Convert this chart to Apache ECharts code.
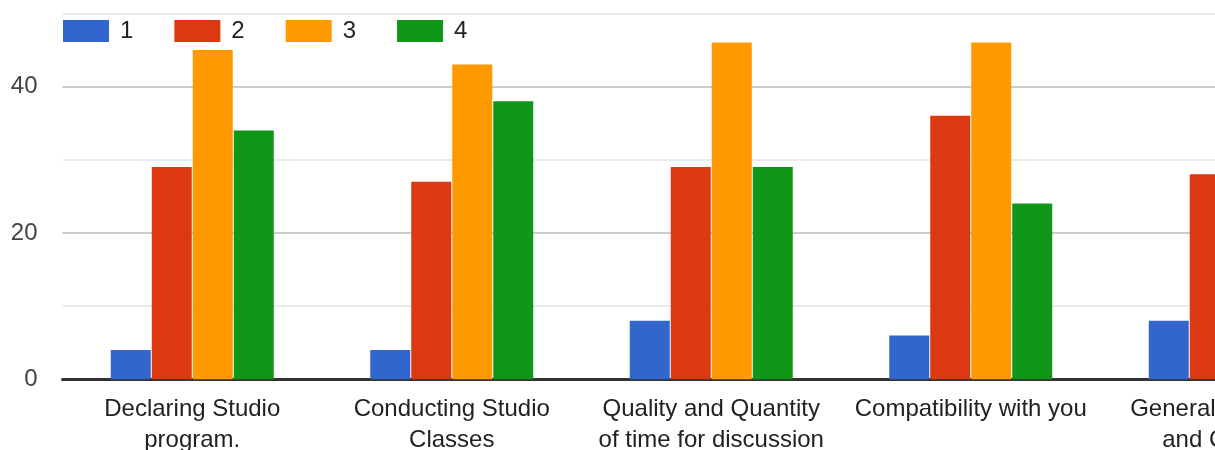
<!DOCTYPE html>
<html>
<head>
<meta charset="utf-8">
<script src="https://cdn.jsdelivr.net/npm/echarts@6/dist/echarts.min.js"></script>
<style>
html,body{margin:0;padding:0;background:#fff;overflow:hidden;width:1215px;height:450px;}
#chart{width:1362px;height:450px;}
</style>
</head>
<body>
<div id="chart"></div>
<script>
var categories = [
  'Declaring Studio\nprogram.',
  'Conducting Studio\nClasses',
  'Quality and Quantity\nof time for discussion',
  'Compatibility with you',
  'General Behaviour\nand Conduct'
];
var seriesNames = ['1', '2', '3', '4'];
var values1 = [4, 4, 8, 6, 8];
var values2 = [29, 27, 29, 36, 28];
var values3 = [45, 43, 46, 46, 44];
var values4 = [34, 38, 29, 24, 30];
var yTickLabels = [0, 20, 40];
var colors = ['#3366cc', '#dc3912', '#ff9900', '#109618'];

var FONT = '"Liberation Sans", Arial, sans-serif';
var allValues = [values1, values2, values3, values4];

var chart = echarts.init(document.getElementById('chart'), null, {renderer: 'canvas'});
chart.setOption({
  animation: false,
  color: colors,
  textStyle: {fontFamily: FONT},
  legend: {
    left: 63,
    top: 19,
    padding: 0,
    itemWidth: 46,
    itemHeight: 22,
    itemGap: 41,
    icon: 'rect',
    textStyle: {fontFamily: FONT, fontSize: 24, color: '#222', padding: [0, 0, 0, 6], lineHeight: 22},
    data: seriesNames
  },
  grid: {left: 62.5, top: 13.3, right: 2, height: 366, containLabel: false, outerBoundsMode: 'none'},
  xAxis: {
    type: 'category',
    data: categories,
    axisLine: {lineStyle: {color: '#333', width: 3}},
    axisTick: {show: false},
    axisLabel: {
      interval: 0,
      margin: 15,
      fontFamily: FONT,
      fontSize: 24,
      lineHeight: 31,
      color: '#222'
    },
    splitLine: {show: false}
  },
  yAxis: {
    type: 'value',
    min: 0,
    max: 50,
    interval: 10,
    axisLine: {show: false},
    axisTick: {show: false},
    axisLabel: {
      margin: 25,
      fontFamily: FONT,
      fontSize: 24,
      color: '#444',
      formatter: function (v) { return yTickLabels.indexOf(v) >= 0 ? String(v) : ''; }
    },
    splitLine: {lineStyle: {color: ['#cccccc', '#ebebeb'], width: 2}}
  },
  series: seriesNames.map(function (n, i) {
    return {
      name: n,
      type: 'bar',
      data: allValues[i],
      barWidth: 40,
      barGap: '2.5%',
      itemStyle: {color: colors[i]}
    };
  })
});
</script>
</body>
</html>
